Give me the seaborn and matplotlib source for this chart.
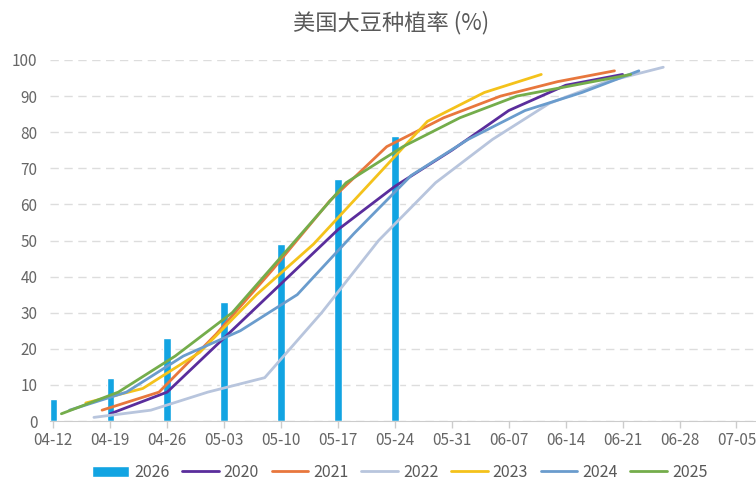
import pandas as pd
import seaborn as sns
import matplotlib.pyplot as plt
import matplotlib.dates as mdates

# ============================================
# DATA (planting progress, %)
# ============================================

dates_2026 = ["04-12", "04-19", "04-26", "05-03", "05-10", "05-17", "05-24"]
vals_2026 = [6, 12, 23, 33, 49, 67, 79]

dates_2020 = ["04-19", "04-26", "05-03", "05-10", "05-17", "05-24", "05-31", "06-07", "06-14", "06-21"]
vals_2020 = [2, 8, 23, 38, 53, 65, 75, 86, 93, 96]

dates_2021 = ["04-18", "04-25", "05-02", "05-09", "05-16", "05-23", "05-30", "06-06", "06-13", "06-20"]
vals_2021 = [3, 8, 24, 42, 61, 76, 84, 90, 94, 97]

dates_2022 = ["04-17", "04-24", "05-01", "05-08", "05-15", "05-22", "05-29", "06-05", "06-12", "06-19", "06-26"]
vals_2022 = [1, 3, 8, 12, 30, 50, 66, 78, 88, 94, 98]

dates_2023 = ["04-16", "04-23", "04-30", "05-07", "05-14", "05-21", "05-28", "06-04", "06-11"]
vals_2023 = [5, 9, 19, 35, 49, 66, 83, 91, 96]

dates_2024 = ["04-14", "04-21", "04-28", "05-05", "05-12", "05-19", "05-26", "06-02", "06-09", "06-16", "06-23"]
vals_2024 = [3, 8, 18, 25, 35, 52, 68, 78, 86, 91, 97]

dates_2025 = ["04-13", "04-20", "04-27", "05-04", "05-11", "05-18", "05-25", "06-01", "06-08", "06-15", "06-22"]
vals_2025 = [2, 8, 18, 30, 48, 66, 76, 84, 90, 93, 96]

tick_labels = ["04-12", "04-19", "04-26", "05-03", "05-10", "05-17", "05-24",
               "05-31", "06-07", "06-14", "06-21", "06-28", "07-05"]

series = {
    "2020": (dates_2020, vals_2020, "#5a2d9c"),
    "2021": (dates_2021, vals_2021, "#e8773d"),
    "2022": (dates_2022, vals_2022, "#b8c5dd"),
    "2023": (dates_2023, vals_2023, "#f4c21b"),
    "2024": (dates_2024, vals_2024, "#6a9ccd"),
    "2025": (dates_2025, vals_2025, "#74ad4b"),
}

def to_dt(md):
    return pd.to_datetime(["2026-" + d for d in md])

# ============================================
# STYLE
# ============================================

sns.set_style("white")
plt.rcParams['font.family'] = ['Noto Sans CJK SC', 'DejaVu Sans']

fig = plt.figure(figsize=(7.56, 4.82), dpi=100)
ax = fig.add_axes([50 / 756, 61 / 482, 706 / 756, 361 / 482])

# ============================================
# BARS (2026) + LINES (previous years)
# ============================================

bars = ax.bar(to_dt(dates_2026), vals_2026, width=0.9, color="#12a4e2", label="2026", zorder=2)

for year, (d, v, c) in series.items():
    df = pd.DataFrame({"date": to_dt(d), "pct": v})
    sns.lineplot(data=df, x="date", y="pct", ax=ax, color=c, linewidth=2.0,
                 label=year, zorder=3)

# ============================================
# AXES
# ============================================

start = pd.Timestamp("2026-04-12")
ax.set_xlim(start - pd.Timedelta(days=0.4), start + pd.Timedelta(days=86.4))
ax.set_ylim(0, 100)
ax.set_yticks(range(0, 101, 10))
ax.set_xticks(to_dt(tick_labels))
ax.xaxis.set_major_formatter(mdates.DateFormatter("%m-%d"))

ax.set_xlabel("")
ax.set_ylabel("")
for s in ["top", "right", "left"]:
    ax.spines[s].set_visible(False)
ax.spines["bottom"].set_color("#cccccc")

ax.yaxis.grid(True, linestyle=(0, (6, 4)), color="#dddddd", linewidth=1)
ax.xaxis.grid(False)
ax.set_axisbelow(True)

ax.tick_params(axis="x", colors="#666666", labelsize=11, length=5, width=1,
               color="#cccccc", pad=3, bottom=True)
ax.tick_params(axis="y", colors="#666666", labelsize=11, length=0, pad=9)
for t in ax.get_yticklabels() + ax.get_xticklabels():
    t.set_color("#666666")

fig.text(0.517, 0.953, "美国大豆种植率 (%)", ha="center", va="center",
         fontsize=16, color="#595959")

# ============================================
# LEGEND
# ============================================

handles, labels = ax.get_legend_handles_labels()
if ax.get_legend():
    ax.get_legend().remove()
order = [labels.index(l) for l in ["2026", "2020", "2021", "2022", "2023", "2024", "2025"]]
fig.legend([handles[i] for i in order], [labels[i] for i in order],
           loc="center", bbox_to_anchor=(0.529, 0.02), ncol=7, frameon=False,
           fontsize=11.5, handlelength=2.3, handletextpad=0.3, columnspacing=0.8,
           labelcolor="#595959")

fig.savefig("out.png", dpi=100)
